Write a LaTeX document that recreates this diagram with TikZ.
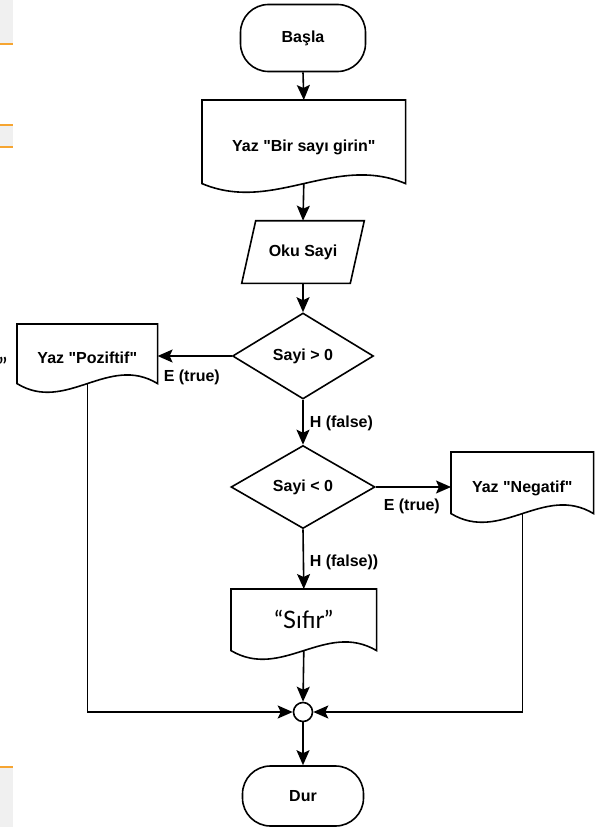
\documentclass[tikz,border=0pt]{standalone}
\usepackage{fontspec}
\setmainfont{Liberation Sans}[Ligatures=TeXOff]
\newfontfamily\sifirfont{Lato}
\usetikzlibrary{arrows.meta,shapes.geometric,calc}
\definecolor{edgeorange}{HTML}{F6A531}
\definecolor{edgegrey}{HTML}{F0F0F0}
\newcommand\docpath[1]{%
  \draw (#1.south west) -- (#1.north west) -- (#1.north east) -- (#1.south east)
    .. controls ($(#1.south east)!0.35!(#1.south west)+(0,-30)$) and ($(#1.south east)!0.65!(#1.south west)+(0,30)$) .. (#1.south west) -- cycle;}
\newcommand\lowertext[2]{\raisebox{-#1}[\height][\depth]{#2}}
\begin{document}
\begin{tikzpicture}[x=1pt,y=-1pt,
  line width=1.6pt,
  font=\fontsize{16}{18}\selectfont\bfseries,
  arr/.style={-{Stealth[length=15pt,width=13pt,inset=3pt]}},
  term/.style={draw,rectangle,rounded corners=28pt,inner sep=0pt},
  docbox/.style={rectangle,inner sep=0pt,anchor=north west},
  dec/.style={draw,diamond,inner sep=0pt},
  lbl/.style={anchor=west,inner sep=0pt},
  sifir/.style={font=\sifirfont\fontsize{24}{26}\selectfont}
]
\useasboundingbox (0,0) rectangle (602,827);
\fill[white] (0,0) rectangle (602,827);
% left-edge fragments
\fill[edgegrey] (0,0) rectangle (12.7,43);
\fill[edgeorange] (0,43) rectangle (12.7,45);
\fill[edgeorange] (0,124) rectangle (12.7,126);
\fill[edgegrey] (0,126) rectangle (12.7,146);
\fill[edgeorange] (0,146) rectangle (12.7,148);
\fill[edgeorange] (0,766) rectangle (12.7,768);
\fill[edgegrey] (0,768) rectangle (12.7,827);
\node[sifir] (stray) at (3,366) {”};

% nodes
\node[term,minimum width=125pt,minimum height=67pt] (start) at (303,38) {Başla};
\node[docbox,minimum width=202pt,minimum height=82pt] (doc1) at (202,100) {\lowertext{6pt}{Yaz "Bir sayı girin"}};
\docpath{doc1}
\node[rectangle,minimum width=107pt,minimum height=61pt,inner sep=0pt] (para) at (303,252) {Oku Sayi};
\draw ([xshift=7pt]para.north west) -- ([xshift=7pt]para.north east) -- ([xshift=-7pt]para.south east) -- ([xshift=-7pt]para.south west) -- cycle;
\node[dec,minimum width=141pt,minimum height=86pt] (d1) at (303,356) {Sayi > 0};
\node[docbox,minimum width=139pt,minimum height=58pt] (poz) at (17,324) {\lowertext{4pt}{Yaz "Poziftif"}};
\docpath{poz}
\node[dec,minimum width=144pt,minimum height=83pt] (d2) at (303,487) {Sayi < 0};
\node[docbox,minimum width=141pt,minimum height=60pt] (neg) at (451,452) {\lowertext{6pt}{Yaz "Negatif"}};
\docpath{neg}
\node[docbox,minimum width=144pt,minimum height=60pt,sifir] (sif) at (231,589) {“Sıfır”};
\docpath{sif}
\node[circle,draw,fill=white,minimum size=19pt,inner sep=0pt] (j) at (303,712) {};
\node[term,minimum width=121pt,minimum height=60pt] (stop) at (303,796) {Dur};

% labels
\node[lbl] (l1) at (163,377) {E (true)};
\node[lbl] (l2) at (309,423) {H (false)};
\node[lbl] (l3) at (383,506) {E (true)};
\node[lbl] (l4) at (309,562) {H (false))};

% connectors
\draw[arr] (start.south) -- (doc1.north);
\draw[arr] (doc1.south) -- (para.north);
\draw[arr] (para.south) -- (d1.north);
\draw[arr] (d1.west) -- (d1.west -| poz.east);
\draw[arr] (d1.south) -- (d2.north);
\draw[arr] (d2.east) -- (d2.east -| neg.west);
\draw[arr] (d2.south) -- (sif.north);
\draw[arr] (sif.south) -- (j.north);
\draw[arr] (poz.south) |- (j.west);
\draw[arr] (neg.south) |- (j.east);
\draw[arr] (j.south) -- (stop.north);
\end{tikzpicture}
\end{document}
